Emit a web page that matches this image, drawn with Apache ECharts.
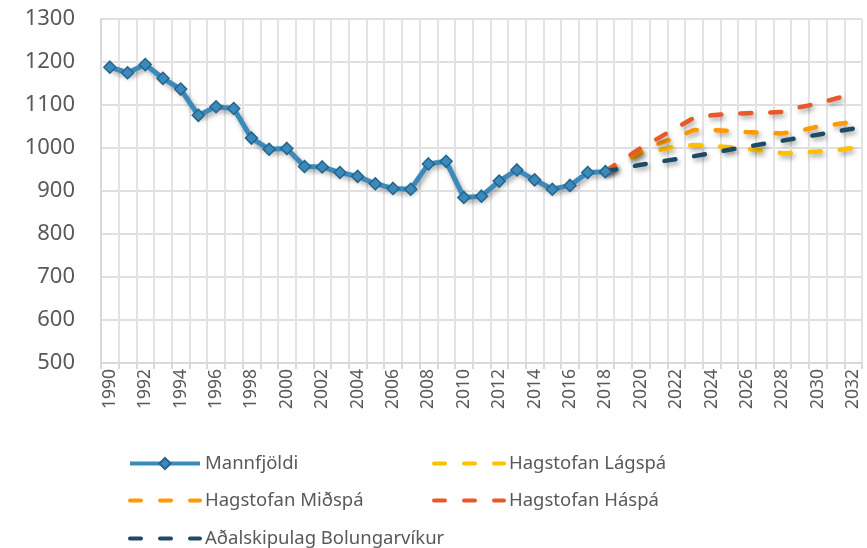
<!DOCTYPE html>
<html>
<head>
<meta charset="utf-8">
<script src="https://cdn.jsdelivr.net/npm/echarts@6/dist/echarts.min.js"></script>
<style>
  html, body { margin: 0; padding: 0; background: #fff; }
  #main { width: 867px; height: 548px; }
</style>
</head>
<body>
<div id="main"></div>
<script>
// ár 1990-2032
var years = [];
for (var y = 1990; y <= 2032; y++) years.push(String(y));

// mannfjöldi 1990-2018
var mannfjoldi = [1188, 1175, 1194, 1162, 1137, 1076, 1096, 1092, 1023, 997,
  999, 957, 956, 943, 934, 917, 906, 904, 963, 969,
  885, 888, 923, 949, 926, 904, 913, 943, 945];

// spár 2018-2032
var lagspa = [945, 966, 988, 995, 1003, 1007, 1005, 1002, 998, 993, 988, 989, 992, 995, 1000];
var midspa = [945, 970, 994, 1010, 1024, 1042, 1042, 1040, 1037, 1035, 1034, 1040, 1050, 1055, 1061];
var haspa = [946, 973, 1000, 1023, 1047, 1070, 1076, 1079, 1081, 1082, 1084, 1095, 1103, 1115, 1125];
var adalskipulag = [946, 953, 961, 968, 974, 981, 988, 996, 1003, 1010, 1017, 1024, 1031, 1038, 1045];

var yTicks = [500, 1300, 100]; // min, max, interval

function pad(arr, start) {
  var out = [];
  for (var i = 0; i < years.length; i++) {
    var k = i - start;
    out.push(k >= 0 && k < arr.length ? arr[k] : null);
  }
  return out;
}

var myChart = echarts.init(document.getElementById("main"));
var fontFam = "'Noto Sans', sans-serif";
var textCol = "#595959";

function dashSeries(name, data, color) {
  return {
    name: name,
    type: "line",
    data: pad(data, 28),
    symbol: "none",
    lineStyle: {
      color: color,
      width: 4.5,
      type: [11, 19],
      cap: "round",
      shadowColor: "rgba(0,0,0,0.35)",
      shadowBlur: 5,
      shadowOffsetX: 2,
      shadowOffsetY: 3,
    },
    itemStyle: { color: color },
  };
}

function legendAt(name, left, top, dashed) {
  return {
    data: [dashed ? { name: name, itemStyle: { opacity: 0 } } : name],
    left: left,
    top: top,
    itemWidth: 70,
    itemHeight: 14,
    itemGap: 6,
    lineStyle: { width: 4 },
    textStyle: { color: textCol, fontSize: 18.5, fontFamily: fontFam },
  };
}

var option = {
  animation: false,
  grid: { left: 101, right: 5, top: 19, bottom: 185, containLabel: false },
  legend: [
    legendAt("Mannfjöldi", 123, 449, false),
    legendAt("Hagstofan Lágspá", 427, 449, true),
    legendAt("Hagstofan Miðspá", 123, 486, true),
    legendAt("Hagstofan Háspá", 427, 486, true),
    legendAt("Aðalskipulag Bolungarvíkur", 123, 524, true),
  ],
  xAxis: {
    type: "category",
    data: years,
    boundaryGap: true,
    axisLine: { lineStyle: { color: "#d9d9d9", width: 2 } },
    axisTick: { show: true, interval: 0, length: 6, lineStyle: { color: "#d9d9d9", width: 2 } },
    splitLine: { show: true, interval: 0, lineStyle: { color: "#e3e3e3", width: 2 } },
    axisLabel: {
      interval: 1,
      rotate: 90,
      color: textCol,
      fontSize: 17.5,
      fontFamily: fontFam,
      margin: 6,
    },
  },
  yAxis: {
    type: "value",
    min: yTicks[0],
    max: yTicks[1],
    interval: yTicks[2],
    axisLine: { show: true, lineStyle: { color: "#d9d9d9", width: 2 } },
    axisTick: { show: false },
    splitLine: { lineStyle: { color: "#e0e0e0", width: 2 } },
    axisLabel: {
      color: textCol,
      fontSize: 22,
      fontFamily: fontFam,
      margin: 26,
      formatter: function (v) { return String(v); },
    },
  },
  series: [
    {
      name: "Mannfjöldi",
      type: "line",
      data: pad(mannfjoldi, 0),
      symbol: "diamond",
      symbolSize: 12,
      showAllSymbol: true,
      lineStyle: {
        color: "#3b8abb",
        width: 5,
        shadowColor: "rgba(0,0,0,0.35)",
        shadowBlur: 5,
        shadowOffsetX: 2,
        shadowOffsetY: 3,
      },
      itemStyle: { color: "#3b8abb", borderColor: "#24658c", borderWidth: 1.5 },
    },
    dashSeries("Hagstofan Lágspá", lagspa, "#ffc000"),
    dashSeries("Hagstofan Miðspá", midspa, "#ff9a00"),
    dashSeries("Hagstofan Háspá", haspa, "#e8582a"),
    dashSeries("Aðalskipulag Bolungarvíkur", adalskipulag, "#1f4a63"),
  ],
};

option && myChart.setOption(option);
</script>
</body>
</html>
